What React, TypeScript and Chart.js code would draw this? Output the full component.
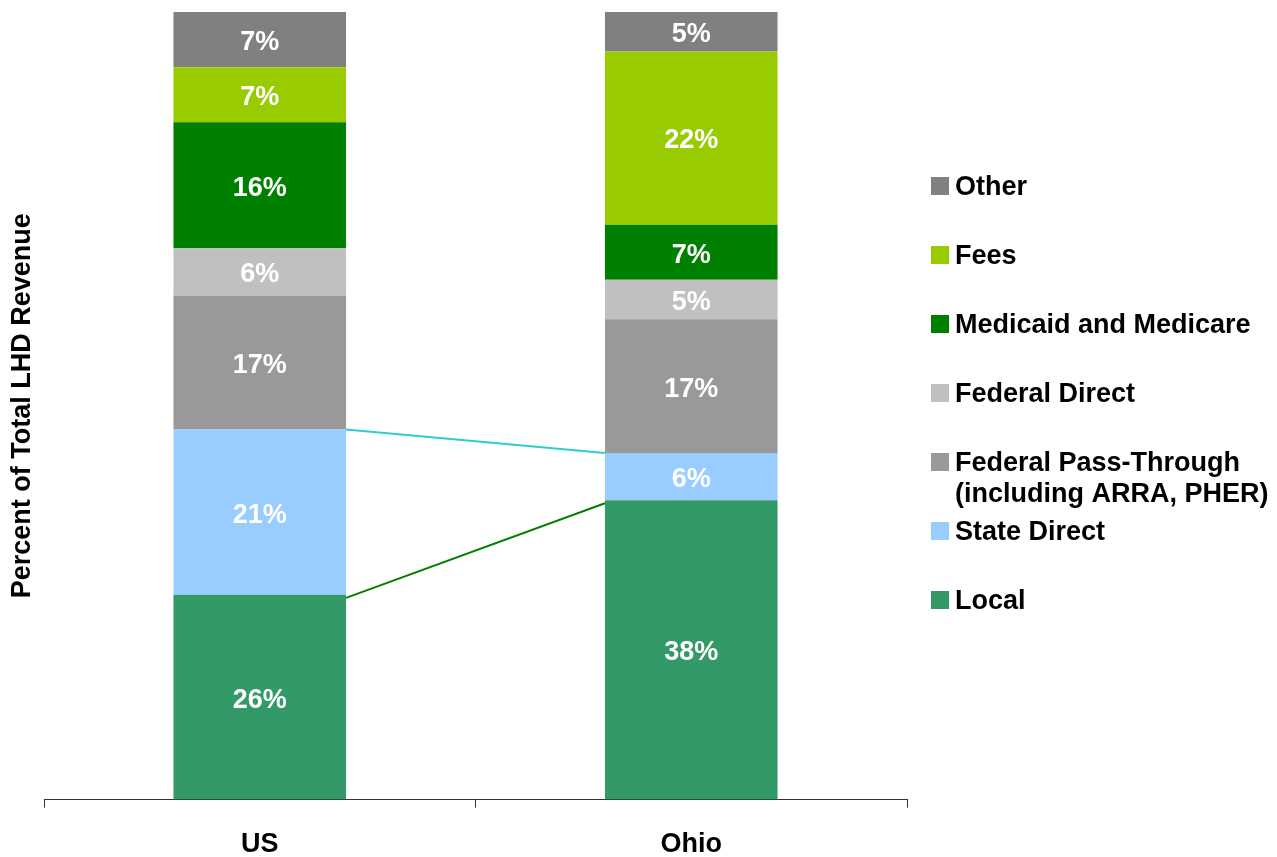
import React, { useEffect, useRef } from "react";
import { Chart, registerables } from "chart.js";

Chart.register(...registerables);

const categories = ["US", "Ohio"];
const seriesNames = [
  "Local",
  "State Direct",
  "Federal Pass-Through\n(including ARRA, PHER)",
  "Federal Direct",
  "Medicaid and Medicare",
  "Fees",
  "Other",
];
const localValues = [26, 38];
const stateDirectValues = [21, 6];
const fedPassValues = [17, 17];
const fedDirectValues = [6, 5];
const medicaidValues = [16, 7];
const feesValues = [7, 22];
const otherValues = [7, 5];
const seriesColors = ["#339966", "#99CCFF", "#999999", "#C0C0C0", "#008000", "#99CC00", "#808080"];
const yAxisTitle = "Percent of Total LHD Revenue";

const FONT = '"Liberation Sans", Arial, sans-serif';
const FS = 27;

const overlayPlugin = {
  id: "overlay",
  afterDatasetsDraw(chart: any) {
    const ctx = chart.ctx;
    ctx.save();
    ctx.font = `bold ${FS}px ${FONT}`;
    ctx.fillStyle = "#FFFFFF";
    ctx.textAlign = "center";
    ctx.textBaseline = "middle";
    chart.data.datasets.forEach((ds: any, i: number) => {
      const meta = chart.getDatasetMeta(i);
      meta.data.forEach((el: any, j: number) => {
        const v = ds.data[j];
        const cy = (el.y + el.base) / 2;
        ctx.fillText(`${v}%`, el.x, cy + 3);
      });
    });
    const drawConnector = (dsIndex: number, color: string, offset: number) => {
      const meta = chart.getDatasetMeta(dsIndex);
      const a = meta.data[0];
      const b = meta.data[1];
      ctx.beginPath();
      ctx.strokeStyle = color;
      ctx.lineWidth = 2;
      ctx.moveTo(a.x + a.width / 2, a.y + offset);
      ctx.lineTo(b.x - b.width / 2, b.y + offset);
      ctx.stroke();
    };
    drawConnector(1, "#33CCCC", 0);
    drawConnector(0, "#008000", 3);
    ctx.restore();
  },
  afterDraw(chart: any) {
    const ctx = chart.ctx;
    const area = chart.chartArea;
    ctx.save();
    ctx.font = `bold ${FS}px ${FONT}`;
    ctx.fillStyle = "#000000";
    ctx.textAlign = "center";
    ctx.textBaseline = "middle";
    ctx.translate(23, (area.top + area.bottom) / 2);
    ctx.rotate(-Math.PI / 2);
    ctx.fillText(yAxisTitle, 0, 0);
    ctx.restore();

    ctx.save();
    ctx.font = `bold ${FS}px ${FONT}`;
    ctx.textAlign = "left";
    ctx.textBaseline = "middle";
    const n = seriesNames.length;
    for (let k = 0; k < n; k++) {
      const idx = n - 1 - k;
      const cy = area.top + 174 + k * 69;
      const sx = area.right + 24;
      ctx.fillStyle = seriesColors[idx];
      ctx.fillRect(sx, cy - 9, 18, 18);
      ctx.fillStyle = "#000000";
      const lines = seriesNames[idx].split("\n");
      lines.forEach((line, li) => {
        ctx.fillText(line, sx + 24, cy + 2 + li * 31);
      });
    }
    ctx.restore();
  },
};

export default function App() {
  const canvasRef = useRef<HTMLCanvasElement | null>(null);

  useEffect(() => {
    if (!canvasRef.current) return;
    const valueArrays = [
      localValues,
      stateDirectValues,
      fedPassValues,
      fedDirectValues,
      medicaidValues,
      feesValues,
      otherValues,
    ];
    const chart = new Chart(canvasRef.current, {
      type: "bar",
      data: {
        labels: categories,
        datasets: valueArrays.map((vals, i) => ({
          label: seriesNames[i],
          data: vals,
          backgroundColor: seriesColors[i],
          borderWidth: 0,
          categoryPercentage: 1,
          barPercentage: 0.4,
        })),
      },
      options: {
        animation: false,
        responsive: true,
        maintainAspectRatio: false,
        layout: { padding: { left: 44, right: 370, top: 12, bottom: -25 } },
        plugins: {
          legend: { display: false },
          tooltip: { enabled: false },
        },
        scales: {
          x: {
            stacked: true,
            grid: {
              offset: true,
              drawOnChartArea: false,
              drawTicks: true,
              tickLength: 8,
              color: "#333333",
            },
            border: { color: "#333333", width: 1 },
            ticks: {
              color: "#000000",
              padding: 21,
              font: { family: FONT, size: FS, weight: "bold" },
            },
          },
          y: {
            stacked: true,
            min: 0,
            max: 100,
            display: false,
          },
        },
      },
      plugins: [overlayPlugin],
    });
    return () => chart.destroy();
  }, []);

  return (
    <div style={{ position: "fixed", left: 0, top: 0, width: 1277, height: 857, background: "#fff" }}>
      <canvas ref={canvasRef} />
    </div>
  );
}
